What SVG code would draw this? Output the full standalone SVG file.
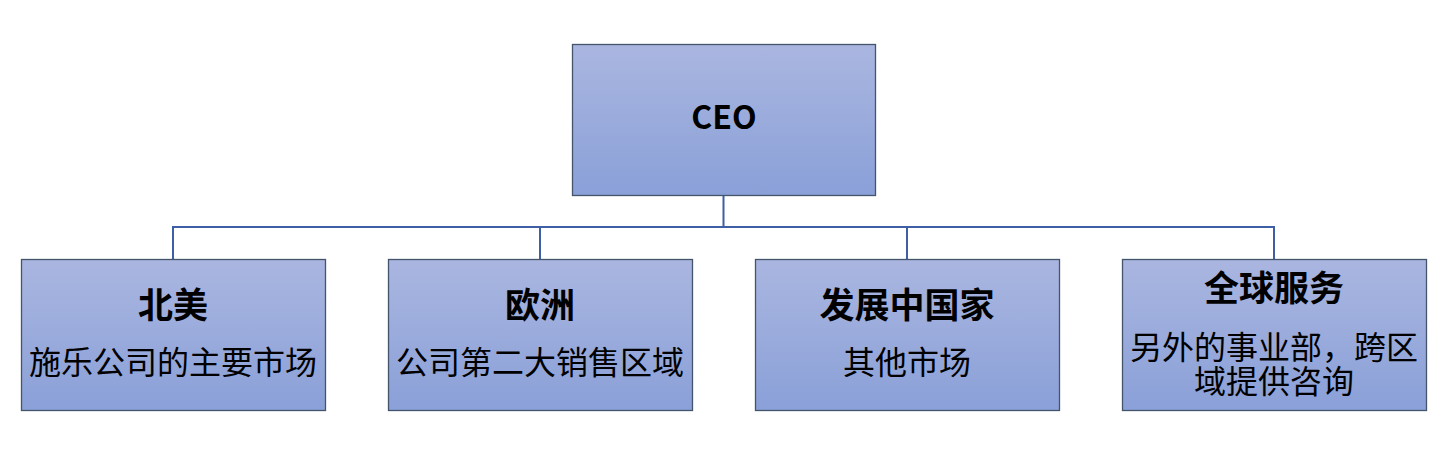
<svg xmlns="http://www.w3.org/2000/svg" width="1449" height="475" viewBox="0 0 1449 475">
<style>
.box{fill:url(#g);stroke:#44546a;stroke-width:1.3}
.t{font-family:"Noto Sans CJK SC","Liberation Sans",sans-serif;font-size:32px;fill:#000;text-anchor:middle;dominant-baseline:central}
.b{font-weight:bold;font-size:35px}
.c{fill:none;stroke:#3e5fa3;stroke-width:2}
</style>
<defs>
<linearGradient id="g" x1="0" y1="0" x2="0" y2="1">
<stop offset="0" stop-color="#aab6e0"/>
<stop offset="1" stop-color="#8aa0d8"/>
</linearGradient>
</defs>
<g id="connectors">
<path class="c" d="M723.5 196V227M173 259V227H1274V259M540 227V259M907 227V259"/>
</g>
<g id="ceo">
<rect class="box" x="572.5" y="44.5" width="303" height="151"/>
<text class="t b" x="724" y="115" style="font-size:32px">CEO</text>
</g>
<g id="na">
<rect class="box" x="21.5" y="259.5" width="304" height="151"/>
<text class="t b" x="173" y="302">北美</text>
<text class="t" x="173" y="360">施乐公司的主要市场</text>
</g>
<g id="eu">
<rect class="box" x="388.5" y="259.5" width="304" height="151"/>
<text class="t b" x="540" y="302">欧洲</text>
<text class="t" x="540" y="360">公司第二大销售区域</text>
</g>
<g id="dev">
<rect class="box" x="755.5" y="259.5" width="304" height="151"/>
<text class="t b" x="907" y="302">发展中国家</text>
<text class="t" x="907" y="360">其他市场</text>
</g>
<g id="gs">
<rect class="box" x="1122.5" y="259.5" width="304" height="151"/>
<text class="t b" x="1274" y="285">全球服务</text>
<text class="t" x="1274" y="345">另外的事业部，跨区<tspan x="1274" dy="34">域提供咨询</tspan></text>
</g>
</svg>
